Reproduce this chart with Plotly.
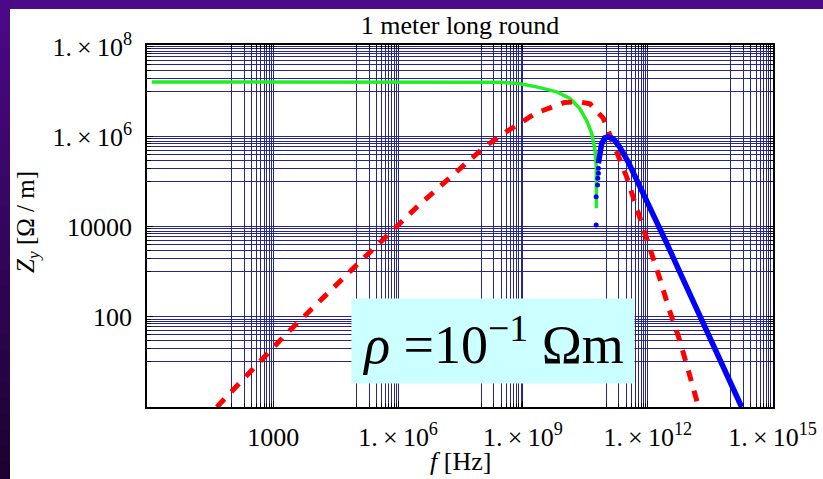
import plotly.graph_objects as go

# ---------------- data ----------------
red_f = [44, 190, 2.1e3, 8.3e4, 2.8e6, 1.2e8, 4.5e8, 2.1e9, 1.0e10, 2.2e10, 4.1e10,
         8.5e10, 1.8e11, 3.1e11, 4.7e11, 7.8e11, 1.26e12, 2.0e12, 3.2e12, 5.5e12,
         8.7e12, 1.45e13, 1.66e13]
red_z = [1.0, 4.3, 43, 1.2e3, 2.75e4, 6.0e5, 1.4e6, 3.4e6, 5.8e6, 6.0e6, 5.4e6,
         2.6e6, 5.0e5, 1.3e5, 3.9e4, 1.0e4, 2.6e3, 660, 155, 36, 8.5, 1.66, 1.0]

green_f = [1.2, 9.3e7, 3.0e8, 8.5e8, 2.1e9, 6.5e9, 1.35e10, 2.3e10, 3.4e10, 4.5e10,
           5.4e10, 5.8e10, 5.9e10, 5.8e10]
green_z = [1.66e7, 1.66e7, 1.63e7, 1.51e7, 1.29e7, 1.0e7, 7.1e6, 4.3e6, 2.3e6, 1.2e6,
           5.0e5, 2.1e5, 9.3e4, 2.6e4]

blue_dot_f = [5.75e10, 5.75e10, 6.2e10, 6.3e10, 6.5e10, 6.5e10]
blue_dot_z = [1.1e4, 4.7e4, 8.5e4, 1.2e5, 1.55e5, 2.0e5]

blue_f = [6.5e10, 7.1e10, 7.8e10, 9.3e10, 1.12e11, 1.48e11, 2.1e11, 3.4e11, 5.5e11,
          9.5e11, 2.9e12, 6.0e12, 1.8e13, 5.5e13, 1.8e14]
blue_z = [2.6e5, 4.5e5, 7.1e5, 9.5e5, 1.0e6, 9.1e5, 6.0e5, 2.75e5, 1.1e5, 3.9e4,
          4.2e3, 9.5e2, 1.05e2, 1.2e1, 1.0]

x_tickvals = [1e3, 1e6, 1e9, 1e12, 1e15]
x_ticktext = ["1000", "1.\u2009×\u200910<sup>6</sup>", "1.\u2009×\u200910<sup>9</sup>",
              "1.\u2009×\u200910<sup>12</sup>", "1.\u2009×\u200910<sup>15</sup>"]
y_tickvals = [1e2, 1e4, 1e6, 1e8]
y_ticktext = ["100", "10000", "1.\u2009×\u200910<sup>6</sup>", "1.\u2009×\u200910<sup>8</sup>"]

# minor grid: the decade just below each labelled tick
x_minor = [k * 10 ** (3 * n - 1) for n in range(1, 6) for k in range(1, 10)]
y_minor = [k * 10 ** (2 * n - 1) for n in range(1, 5) for k in range(1, 10)]

# ---------------- layout geometry ----------------
W, H = 823, 479
L, R, T, B = 147, 50, 45, 72
PW, PH = W - L - R, H - T - B
FONT = "Liberation Serif, Times New Roman, serif"
GRID = "#26268c"

fig = go.Figure()
fig.add_trace(go.Scatter(x=green_f, y=green_z, mode="lines",
                         line=dict(color="#22ee22", width=3.5), hoverinfo="skip"))
fig.add_trace(go.Scatter(x=red_f, y=red_z, mode="lines",
                         line=dict(color="#ff0000", width=5, dash="11px,10px"), hoverinfo="skip"))
fig.add_trace(go.Scatter(x=blue_dot_f, y=blue_dot_z, mode="markers",
                         marker=dict(color="#0000ff", size=5), hoverinfo="skip"))
fig.add_trace(go.Scatter(x=blue_f, y=blue_z, mode="lines",
                         line=dict(color="#0000ff", width=5.5), hoverinfo="skip"))

axis_common = dict(
    type="log", showgrid=True, gridcolor=GRID, gridwidth=1,
    showline=True, linecolor="black", linewidth=1.5, mirror="allticks",
    ticks="inside", ticklen=6, tickcolor="black", tickwidth=1,
    tickfont=dict(family=FONT, size=26, color="black"),
    zeroline=False, tickmode="array",
)

fig.update_layout(
    width=W, height=H,
    margin=dict(l=L, r=R, t=T, b=B, autoexpand=False),
    paper_bgcolor="white", plot_bgcolor="white",
    showlegend=False,
    font=dict(family=FONT, color="black"),
    title=dict(text="1 meter long round", x=0.5, xref="paper", xanchor="center",
               y=1 - 25 / H, yref="container", yanchor="middle",
               font=dict(family=FONT, size=26, color="black")),
    xaxis=dict(axis_common, range=[-0.036, 15.01], tickvals=x_tickvals, ticktext=x_ticktext,
               ticklabelstandoff=6,
               minor=dict(tickmode="array", tickvals=x_minor, showgrid=True, gridcolor=GRID,
                          gridwidth=1, ticks="inside", ticklen=4, tickcolor="black")),
    yaxis=dict(axis_common, range=[0, 8.04], tickvals=y_tickvals, ticktext=y_ticktext,
               ticklabelstandoff=8,
               minor=dict(tickmode="array", tickvals=y_minor, showgrid=True, gridcolor=GRID,
                          gridwidth=1, ticks="inside", ticklen=4, tickcolor="black")),
)

# purple frame of the slide (top band + left gradient band)
def px_x(p):
    return (p - L) / PW

def px_y(p):
    return (H - B - p) / PH

shapes = [dict(type="rect", xref="paper", yref="paper", x0=px_x(-2), x1=px_x(W + 2),
               y0=px_y(9), y1=px_y(-2), fillcolor="#4b0a86", line=dict(width=0), layer="above")]
top_c, bot_c = (75, 8, 135), (28, 2, 48)
N = 30
for i in range(N):
    t = i / (N - 1)
    c = tuple(round(top_c[j] + (bot_c[j] - top_c[j]) * t) for j in range(3))
    shapes.append(dict(type="rect", xref="paper", yref="paper",
                       x0=px_x(-2), x1=px_x(10),
                       y0=px_y(H * (i + 1) / N + 1), y1=px_y(H * i / N - (2 if i == 0 else 0)),
                       fillcolor="rgb(%d,%d,%d)" % c, line=dict(width=0), layer="above"))
fig.update_layout(shapes=shapes)

# axis titles and the resistivity box
fig.add_annotation(text="<i>Z</i><sub><i>y</i></sub> [Ω / m]", xref="paper", yref="paper",
                   x=px_x(27), y=px_y(222), textangle=-90, showarrow=False,
                   xanchor="center", yanchor="middle",
                   font=dict(family=FONT, size=25, color="black"))
fig.add_annotation(text="<i>f</i> [Hz]", xref="paper", yref="paper",
                   x=px_x(460), y=px_y(462), showarrow=False,
                   xanchor="center", yanchor="middle",
                   font=dict(family=FONT, size=26, color="black"))
fig.add_annotation(text="<i>ρ</i> =10<sup>−1</sup> Ωm", xref="paper", yref="paper",
                   x=px_x(493), y=px_y(341), showarrow=False,
                   xanchor="center", yanchor="middle",
                   width=274, height=76, borderpad=4, bgcolor="#ccffff",
                   font=dict(family=FONT, size=54, color="black"))

fig.write_html("out.html", config={"displayModeBar": False},
               post_script="document.body.style.margin='0';")
